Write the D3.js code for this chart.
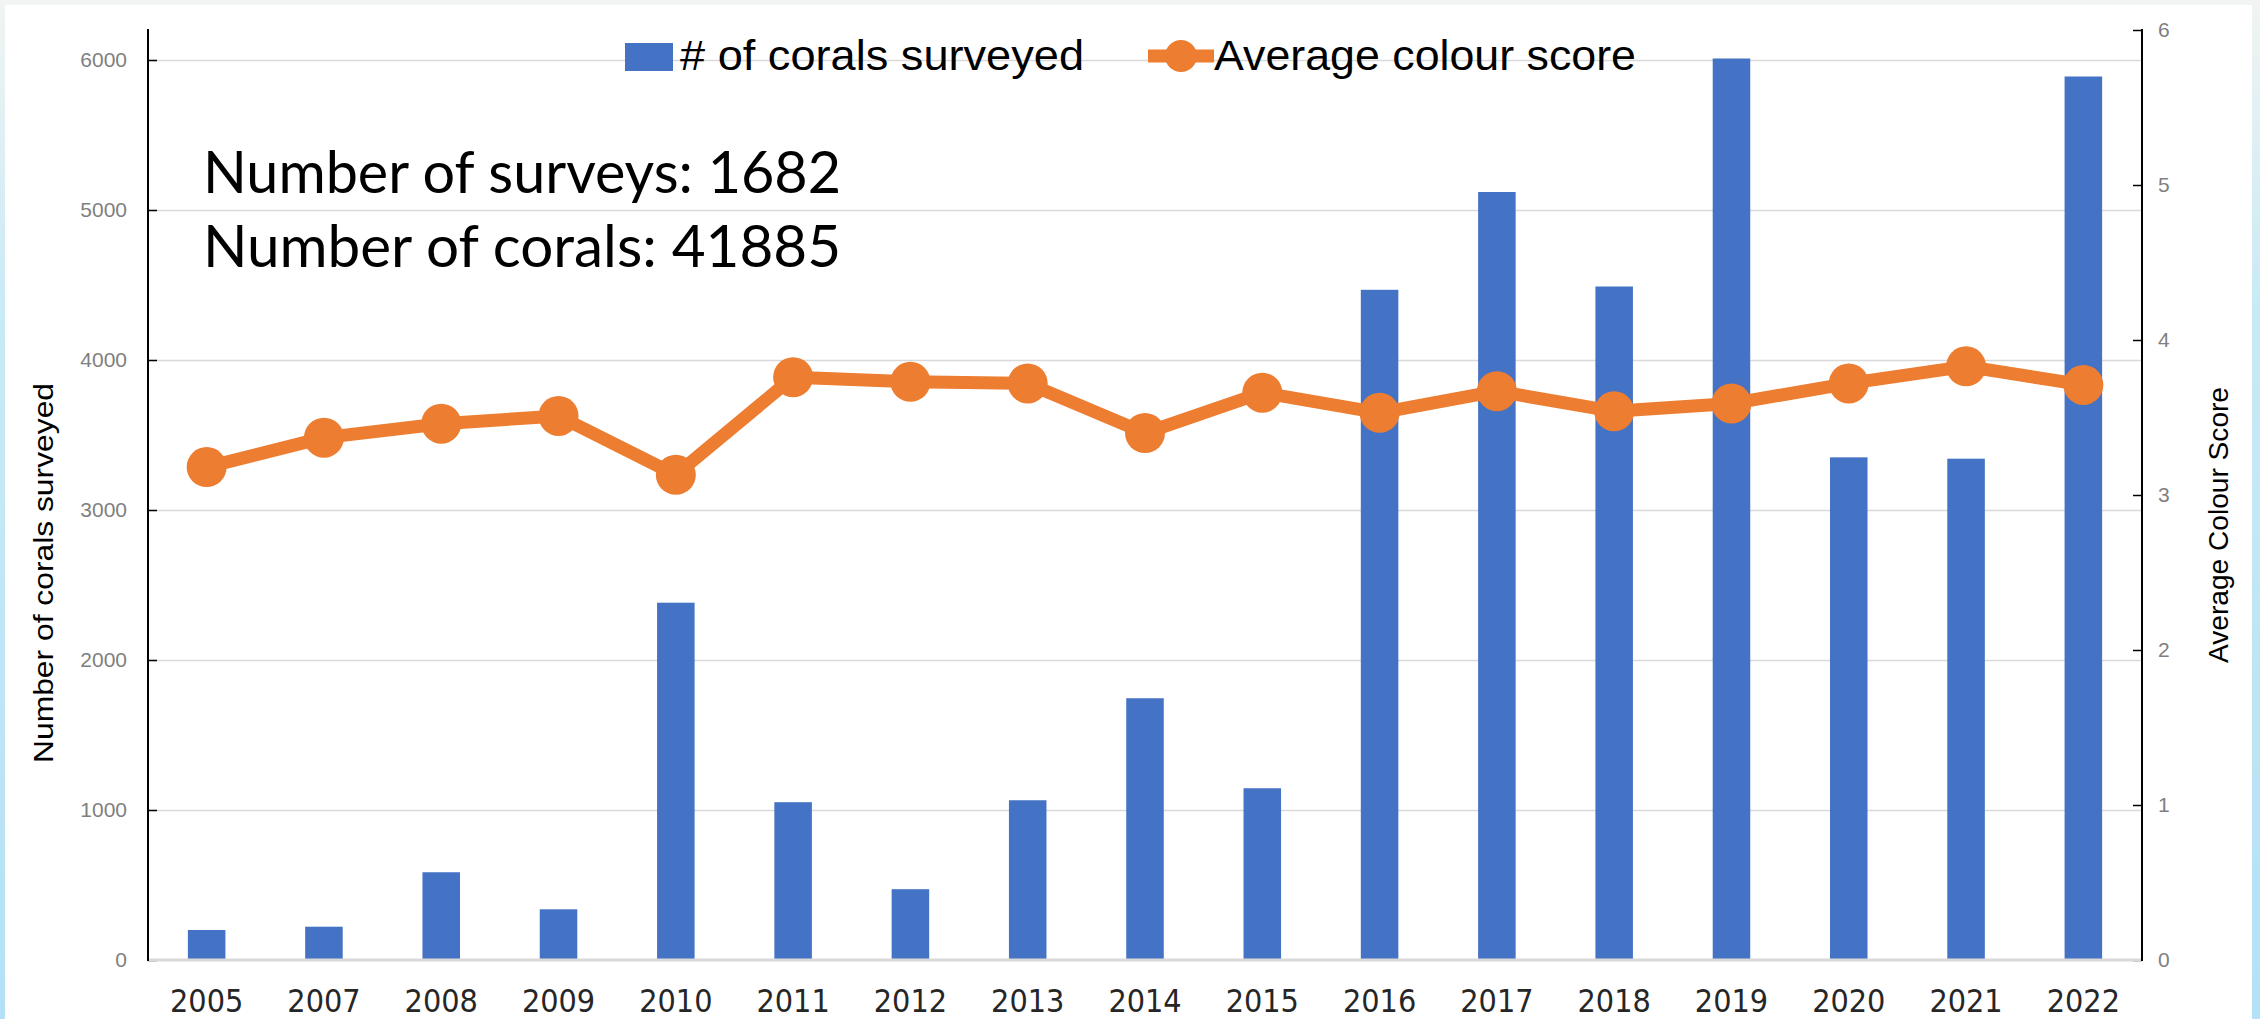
<!DOCTYPE html>
<html>
<head>
<meta charset="utf-8">
<script src="https://cdn.jsdelivr.net/npm/d3@7"></script>
<style>
body { margin: 0; background: #fff; }
svg { display: block; }
</style>
</head>
<body>
<script>
// chart data
var years = ["2005","2007","2008","2009","2010","2011","2012","2013","2014","2015","2016","2017","2018","2019","2020","2021","2022"];
var corals = [200, 222, 585, 338, 2382, 1052, 472, 1065, 1745, 1145, 4468, 5120, 4490, 6010, 3351, 3342, 5890];
var colourScore = [3.18, 3.37, 3.46, 3.51, 3.13, 3.76, 3.73, 3.72, 3.40, 3.66, 3.53, 3.67, 3.54, 3.59, 3.72, 3.83, 3.71];
var leftTicks = [0, 1000, 2000, 3000, 4000, 5000, 6000];
var rightTicks = [0, 1, 2, 3, 4, 5, 6];
var notes = ["Number of surveys: 1682", "Number of corals: 41885"];

var W = 2260, H = 1019;
var blue = "#4472C4", orange = "#ED7D31";

var svg = d3.select("body").append("svg")
    .attr("width", W)
    .attr("height", H);

// pale frame round the slide
var grad = svg.append("defs").append("linearGradient")
    .attr("id", "frame").attr("x1", 0).attr("y1", 0).attr("x2", 0).attr("y2", 1);
grad.append("stop").attr("offset", "0%").attr("stop-color", "#f1f4f2");
grad.append("stop").attr("offset", "30%").attr("stop-color", "#c9eaf6");
grad.append("stop").attr("offset", "100%").attr("stop-color", "#b3e1f5");
svg.append("rect").attr("width", W).attr("height", H).attr("fill", "url(#frame)");
svg.append("rect").attr("width", W).attr("height", 5).attr("fill", "#f1f4f2");
svg.append("rect").attr("x", 5).attr("y", 5).attr("width", 2247).attr("height", H - 5).attr("fill", "#fff");

var x = d3.scaleBand().domain(years).range([148, 2142]).paddingInner(0.68).paddingOuter(0.34);
var yL = d3.scaleLinear().domain([0, 6000]).range([960, 60]);
var yR = d3.scaleLinear().domain([0, 6]).range([960, 30]);

// gridlines
svg.append("g")
    .attr("transform", "translate(148,0)")
    .call(d3.axisLeft(yL).tickValues(leftTicks.slice(1)).tickSize(-1994).tickFormat(""))
    .call(function(g){ g.select(".domain").remove(); })
    .selectAll("line").attr("stroke", "#d9d9d9").attr("stroke-width", 1.5);

// left axis
var gl = svg.append("g")
    .attr("transform", "translate(148,0)")
    .call(d3.axisRight(yL).tickValues(leftTicks).tickSize(9).tickFormat(d3.format("d")));
gl.select(".domain").remove();
gl.selectAll("line").attr("stroke", "#000").attr("stroke-width", 1.5);
gl.selectAll("text")
    .attr("x", -21).attr("text-anchor", "end")
    .style("font-family", "'Liberation Sans', Arial, sans-serif")
    .style("font-size", "21px").attr("fill", "#7f7f7f");

// right axis
var gr = svg.append("g")
    .attr("transform", "translate(2142,0)")
    .call(d3.axisLeft(yR).tickValues(rightTicks).tickSize(9).tickFormat(d3.format("d")));
gr.select(".domain").remove();
gr.selectAll("line").attr("stroke", "#000").attr("stroke-width", 1.5);
gr.selectAll("text")
    .attr("x", 16).attr("text-anchor", "start")
    .style("font-family", "'Liberation Sans', Arial, sans-serif")
    .style("font-size", "21px").attr("fill", "#7f7f7f");

// bars
svg.append("g").selectAll("rect")
    .data(years)
    .enter().append("rect")
    .attr("x", function(d){ return x(d); })
    .attr("width", x.bandwidth())
    .attr("y", function(d, i){ return yL(corals[i]); })
    .attr("height", function(d, i){ return yL(0) - yL(corals[i]); })
    .attr("fill", blue);

// baseline + vertical axis lines
svg.append("line").attr("x1", 148).attr("x2", 2142).attr("y1", yL(0)).attr("y2", yL(0))
    .attr("stroke", "#d9d9d9").attr("stroke-width", 3);
svg.append("line").attr("x1", 148).attr("x2", 148).attr("y1", 29).attr("y2", 961)
    .attr("stroke", "#000").attr("stroke-width", 2);
svg.append("line").attr("x1", 2142).attr("x2", 2142).attr("y1", 29).attr("y2", 961)
    .attr("stroke", "#000").attr("stroke-width", 2);

// x labels
var gx = svg.append("g")
    .attr("transform", "translate(0,960)")
    .call(d3.axisBottom(x).tickSize(0).tickPadding(0));
gx.select(".domain").remove();
gx.selectAll("text")
    .attr("y", 52).attr("dy", 0)
    .style("font-family", "'Liberation Sans Narrow', 'DejaVu Sans Condensed', sans-serif")
    .style("font-size", "32px").attr("fill", "#262626");

// colour score line
var cx = function(d, i){ return x(years[i]) + x.bandwidth() / 2; };
var line = d3.line().x(cx).y(function(d){ return yR(d); });
svg.append("path")
    .datum(colourScore)
    .attr("d", line)
    .attr("fill", "none")
    .attr("stroke", orange)
    .attr("stroke-width", 13)
    .attr("stroke-linejoin", "round");
svg.append("g").selectAll("circle")
    .data(colourScore)
    .enter().append("circle")
    .attr("cx", cx)
    .attr("cy", function(d){ return yR(d); })
    .attr("r", 20)
    .attr("fill", orange);

// axis titles
svg.append("text")
    .attr("transform", "translate(53,573) rotate(-90)")
    .attr("text-anchor", "middle")
    .attr("textLength", 380).attr("lengthAdjust", "spacingAndGlyphs")
    .style("font-family", "'Liberation Sans', Arial, sans-serif")
    .style("font-size", "28px").attr("fill", "#000")
    .text("Number of corals surveyed");
svg.append("text")
    .attr("transform", "translate(2228,525) rotate(-90)")
    .attr("text-anchor", "middle")
    .attr("textLength", 276).attr("lengthAdjust", "spacingAndGlyphs")
    .style("font-family", "'Liberation Sans', Arial, sans-serif")
    .style("font-size", "28px").attr("fill", "#000")
    .text("Average Colour Score");

// legend
var lg = svg.append("g");
lg.append("rect").attr("x", 625).attr("y", 43).attr("width", 48).attr("height", 28).attr("fill", blue);
lg.append("text").attr("x", 680).attr("y", 70)
    .attr("textLength", 404).attr("lengthAdjust", "spacingAndGlyphs")
    .style("font-family", "'Liberation Sans', Arial, sans-serif")
    .style("font-size", "42px").attr("fill", "#000")
    .text("# of corals surveyed");
lg.append("line").attr("x1", 1148).attr("x2", 1214).attr("y1", 56).attr("y2", 56)
    .attr("stroke", orange).attr("stroke-width", 13);
lg.append("circle").attr("cx", 1181).attr("cy", 56).attr("r", 16).attr("fill", orange);
lg.append("text").attr("x", 1214).attr("y", 70)
    .attr("textLength", 422).attr("lengthAdjust", "spacingAndGlyphs")
    .style("font-family", "'Liberation Sans', Arial, sans-serif")
    .style("font-size", "42px").attr("fill", "#000")
    .text("Average colour score");

// summary note
svg.append("g").selectAll("text")
    .data(notes)
    .enter().append("text")
    .attr("x", 203)
    .attr("y", function(d, i){ return 193 + i * 74; })
    .attr("textLength", 638).attr("lengthAdjust", "spacingAndGlyphs")
    .style("font-family", "Lato, 'Open Sans', sans-serif")
    .style("font-size", "58px").attr("fill", "#000")
    .text(function(d){ return d; });
</script>
</body>
</html>
